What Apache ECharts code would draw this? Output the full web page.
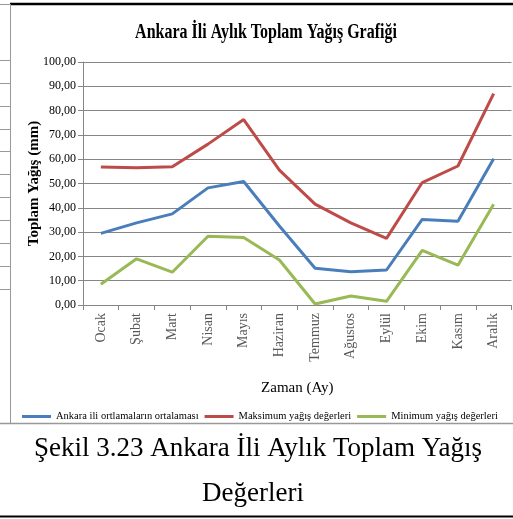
<!DOCTYPE html>
<html>
<head>
<meta charset="utf-8">
<script src="https://cdn.jsdelivr.net/npm/echarts@6/dist/echarts.min.js"></script>
<style>
  html, body { margin: 0; padding: 0; background: #fff; }
  #chart { width: 513px; height: 519px; }
</style>
</head>
<body>
<div id="chart"></div>
<script>
  // months (x axis)
  var months = ['Ocak', 'Şubat', 'Mart', 'Nisan', 'Mayıs', 'Haziran', 'Temmuz', 'Ağustos', 'Eylül', 'Ekim', 'Kasım', 'Aralık']

  var ortalama = [29.5, 33.8, 37.5, 48.2, 50.8, 32.5, 15.1, 13.7, 14.4, 35.2, 34.5, 60.2]
  var maksimum = [56.8, 56.5, 56.9, 66.2, 76.3, 55.5, 41.5, 33.8, 27.4, 50.4, 57.2, 87.0]
  var minimum = [8.5, 19.0, 13.5, 28.3, 27.8, 18.5, 0.4, 3.7, 1.5, 22.5, 16.4, 41.5]

  var seriesNames = ['Ankara ili ortlamaların ortalaması', 'Maksimum yağış değerleri', 'Minimum yağış değerleri']

  var serif = 'Liberation Serif'
  var gridColor = '#868686'

  // short table rules on the left edge of the page
  var sideRules = [60, 83, 106, 129, 151, 174, 197, 220, 243, 266, 289]

  function hline(x1, x2, y, color, w) {
    return {type: 'line', silent: true, shape: {x1: x1, y1: y, x2: x2, y2: y}, style: {stroke: color, lineWidth: w}}
  }

  var graphics = [
    hline(10, 513, 4, '#000', 2.5),
    hline(0, 11, 4.5, '#999', 1),
    {type: 'line', silent: true, shape: {x1: 10.5, y1: 4, x2: 10.5, y2: 423.5}, style: {stroke: '#999', lineWidth: 1}},
    hline(0, 513, 423.5, '#999', 1.5),
    hline(0, 513, 516.5, '#000', 2),
    {
      type: 'text', silent: true, x: 266, y: 33, scaleX: 0.8,
      style: {text: 'Ankara İli Aylık Toplam Yağış Grafiği', font: 'bold 20px ' + serif, fill: '#000', align: 'center', verticalAlign: 'middle'}
    },
    {
      type: 'text', silent: true, x: 258, y: 449,
      style: {text: 'Şekil 3.23 Ankara İli Aylık Toplam Yağış', font: '27px ' + serif, fill: '#000', align: 'center', verticalAlign: 'middle'}
    },
    {
      type: 'text', silent: true, x: 253, y: 494,
      style: {text: 'Değerleri', font: '27px ' + serif, fill: '#000', align: 'center', verticalAlign: 'middle'}
    }
  ]
  sideRules.forEach(function (y) {
    graphics.push(hline(0, 10, y + 0.5, '#999', 1))
  })

  function lineSeries(name, data, color) {
    return {
      name: name,
      type: 'line',
      data: data,
      symbol: 'none',
      lineStyle: {color: color, width: 3},
      itemStyle: {color: color}
    }
  }

  var chart = echarts.init(document.getElementById('chart'))
  chart.setOption({
    animation: false,
    color: ['#4A7EBB', '#BE4B48', '#98B954'],
    graphic: graphics,
    grid: {left: 83, right: 1.5, top: 62, height: 243},
    legend: {
      data: seriesNames,
      left: 17,
      top: 406,
      width: 500,
      icon: 'rect',
      itemWidth: 29,
      itemHeight: 3,
      itemGap: 6,
      textStyle: {fontFamily: serif, fontSize: 10.5, color: '#000'}
    },
    xAxis: {
      type: 'category',
      data: months,
      boundaryGap: true,
      name: 'Zaman (Ay)',
      nameLocation: 'middle',
      nameGap: 76,
      nameMoveOverlap: false,
      nameTextStyle: {fontFamily: serif, fontSize: 15, color: '#000'},
      axisLine: {lineStyle: {color: gridColor}},
      axisTick: {show: true, alignWithLabel: false, length: 5, lineStyle: {color: gridColor}},
      axisLabel: {rotate: 90, margin: 8, fontFamily: serif, fontSize: 14, color: '#595959'}
    },
    yAxis: {
      type: 'value',
      min: 0,
      max: 100,
      interval: 10,
      name: 'Toplam Yağış (mm)',
      nameLocation: 'middle',
      nameRotate: 90,
      nameGap: 41,
      nameMoveOverlap: false,
      nameTextStyle: {fontFamily: serif, fontSize: 15, fontWeight: 'bold', color: '#000'},
      axisLine: {show: true, lineStyle: {color: gridColor}},
      axisTick: {show: true, length: 5, lineStyle: {color: gridColor}},
      splitLine: {lineStyle: {color: gridColor}},
      axisLabel: {
        margin: 7,
        fontFamily: serif,
        fontSize: 12,
        color: '#000',
        formatter: function (v) { return v.toFixed(2).replace('.', ',') }
      }
    },
    series: [
      lineSeries(seriesNames[0], ortalama, '#4A7EBB'),
      lineSeries(seriesNames[1], maksimum, '#BE4B48'),
      lineSeries(seriesNames[2], minimum, '#98B954')
    ]
  })
</script>
</body>
</html>
